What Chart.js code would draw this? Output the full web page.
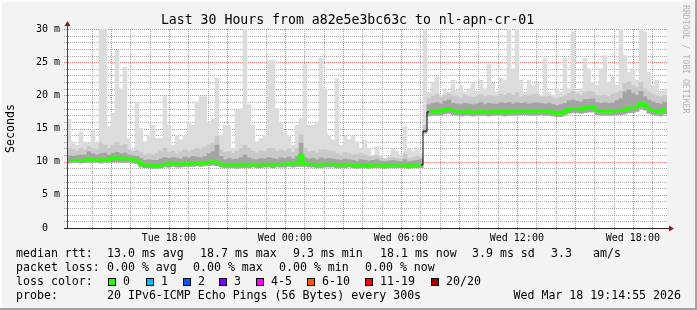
<!DOCTYPE html>
<html>
<head>
<meta charset="utf-8">
<script src="https://cdn.jsdelivr.net/npm/chart.js@4.4.1/dist/chart.umd.min.js"></script>
<style>
  html, body { margin: 0; padding: 0; background: #f3f3f3; }
  #wrap { width: 697px; height: 310px; }
</style>
</head>
<body>
<div id="wrap"><canvas id="smoke" width="697" height="310"></canvas></div>
<script>
// 150 slots of 12 minutes, Tue 13:15 -> Wed 19:15 (values in ms)
const medianMs = [
  10.2,10.2,10.2,10.2,10.2,10.4,10.3,10.2,10.3,10.3,
  10.3,10.6,10.6,10.4,10.5,10.4,10.3,10.2,9.7,9.5,
  9.5,9.4,9.4,9.5,9.6,9.7,9.7,9.7,9.6,9.7,
  9.7,9.8,9.8,9.7,9.8,9.9,10.0,9.9,9.6,9.5,
  9.5,9.5,9.5,9.6,9.5,9.5,9.6,9.5,9.5,9.6,
  9.6,9.5,9.6,9.6,9.6,9.7,9.6,9.8,10.9,9.7,
  9.6,9.6,9.5,9.5,9.6,9.6,9.6,9.5,9.5,9.5,
  9.6,9.5,9.4,9.5,9.5,9.4,9.5,9.5,9.5,9.4,
  9.5,9.5,9.5,9.5,9.5,9.4,9.5,9.5,9.5,14.6,
  17.5,17.6,17.5,17.6,17.9,18.0,17.7,17.6,17.5,17.5,
  17.6,17.4,17.5,17.6,17.5,17.5,17.6,17.5,17.6,17.5,
  17.6,17.5,17.6,17.6,17.7,17.6,17.6,17.6,17.7,17.6,
  17.6,17.5,17.3,17.3,17.6,17.9,18.0,18.0,17.9,18.1,
  18.2,18.2,17.7,17.6,17.6,17.6,17.6,17.7,17.7,17.8,
  18.1,18.1,18.3,18.8,18.5,18.0,17.7,17.6,17.5,17.9
];
const minMs = [
  9.8,9.9,9.9,9.8,9.9,9.9,9.9,9.9,9.8,9.9,
  9.9,9.9,10.0,9.9,9.9,9.9,9.8,9.7,9.2,9.1,
  9.1,9.0,9.0,9.1,9.2,9.2,9.3,9.2,9.2,9.3,
  9.3,9.3,9.4,9.3,9.4,9.4,9.5,9.4,9.2,9.1,
  9.1,9.1,9.0,9.1,9.1,9.1,9.2,9.1,9.1,9.2,
  9.2,9.1,9.2,9.2,9.2,9.3,9.2,9.3,9.3,9.3,
  9.2,9.2,9.1,9.1,9.2,9.2,9.2,9.1,9.1,9.1,
  9.2,9.1,9.0,9.1,9.1,9.0,9.1,9.1,9.1,9.0,
  9.1,9.1,9.1,9.1,9.1,9.0,9.1,9.1,9.1,14.3,
  16.9,17.0,17.0,17.0,17.2,17.3,17.1,17.0,16.9,17.0,
  17.0,16.9,17.0,17.0,17.0,16.9,17.0,17.0,17.0,16.9,
  17.0,17.0,17.0,17.1,17.1,17.0,17.0,17.0,17.1,17.0,
  17.0,16.9,16.8,16.8,17.0,17.3,17.4,17.4,17.3,17.4,
  17.5,17.5,17.1,17.0,17.0,17.0,17.0,17.1,17.1,17.2,
  17.4,17.4,17.6,18.0,17.8,17.3,17.1,17.0,16.9,17.2
];
const p70Ms = [
  10.9,10.8,10.9,11.0,11.0,11.5,11.2,11.0,11.2,11.3,
  11.0,11.3,11.4,11.2,11.3,11.0,10.9,10.8,10.5,10.2,
  10.3,10.2,10.2,10.4,10.6,10.5,10.6,10.5,10.4,10.7,
  10.6,10.8,10.7,10.6,10.8,11.2,11.5,12.5,10.8,10.3,
  10.5,10.3,10.4,10.6,11.0,10.6,10.4,10.3,10.5,10.4,
  10.6,10.5,10.4,10.6,10.5,10.7,10.4,10.8,12.8,10.6,
  10.4,10.5,10.3,10.6,10.4,10.5,10.4,10.3,10.2,10.4,
  10.3,10.2,10.1,10.3,10.2,10.1,10.2,10.3,10.1,10.0,
  10.1,10.2,10.1,10.0,10.3,10.0,10.1,10.2,10.3,14.8,
  18.6,18.8,18.9,18.7,19.1,19.3,18.8,18.7,18.6,18.8,
  18.7,18.6,18.7,18.9,18.6,18.8,18.7,18.7,18.9,18.8,
  18.9,18.7,18.9,18.8,18.9,18.7,18.8,18.9,18.8,18.7,
  18.8,18.6,18.5,18.6,18.8,19.2,19.3,19.1,19.0,19.4,
  19.4,19.5,18.9,18.8,18.9,18.8,18.9,19.2,19.5,20.5,
  20.8,20.3,20.0,20.6,19.8,19.3,19.0,18.8,18.7,19.0
];
const p85Ms = [
  12.0,11.8,11.6,12.0,11.8,12.3,12.0,11.8,12.8,12.5,
  12.0,12.5,12.9,12.4,12.6,11.8,11.5,11.7,11.4,11.0,
  11.2,11.0,11.3,11.6,12.0,11.4,11.6,11.2,11.5,11.8,
  11.5,11.8,12.0,11.8,12.2,12.5,12.8,13.8,11.8,11.4,
  11.5,11.2,11.6,12.0,12.5,12.0,11.6,11.3,11.6,11.5,
  12.0,12.0,11.6,11.8,11.6,11.9,11.4,12.0,14.0,12.0,
  11.5,11.6,11.3,11.8,11.8,11.6,11.6,11.2,11.0,11.4,
  11.2,11.0,11.1,11.2,11.0,10.8,10.7,10.9,10.6,10.4,
  10.5,10.6,10.5,10.4,11.2,10.5,10.6,10.8,10.6,15.5,
  19.6,19.9,20.2,19.7,20.0,20.3,19.9,19.8,19.6,20.0,
  19.8,19.7,19.9,20.1,19.8,20.0,19.9,19.8,20.2,20.0,
  20.3,20.0,20.4,19.8,20.0,19.9,20.1,20.2,19.8,19.8,
  19.9,19.6,19.5,19.7,19.9,20.3,20.6,20.2,20.0,20.5,
  20.6,20.5,20.0,19.9,20.0,19.8,20.2,20.4,20.6,21.8,
  22.0,21.5,21.2,22.0,21.0,20.5,20.2,19.9,19.8,20.0
];
const maxMs = [
  16.4,13.0,12.5,14.5,13.0,12.8,14.9,12.8,30,30,
  15.3,17.3,26.8,21.0,24.3,13.5,11.8,19.0,15.0,13.0,
  14.0,15.5,13.5,13.5,19.8,15.5,12.5,14.0,13.3,13.8,
  16.0,15.5,19.0,19.8,19.8,16.0,16.5,22.6,14.0,15.5,
  15.5,12.0,17.8,18.0,30,18.6,15.5,13.0,13.5,14.0,
  25.3,25.3,18.0,16.0,14.5,14.0,12.5,15.5,16.5,24.6,
  15.5,15.5,16.0,25.6,21.0,14.0,13.3,22.5,12.5,13.8,
  13.3,13.8,13.0,12.0,13.3,12.0,10.9,12.3,11.0,10.5,
  10.8,11.9,11.6,11.0,15.3,11.9,11.6,12.2,11.3,30,
  20.5,22.0,22.8,20.0,21.0,20.5,22.3,20.8,21.5,20.5,
  21.0,21.8,20.6,22.3,21.0,24.6,21.8,20.5,22.6,22.3,
  30,24.0,30,22.3,20.5,22.3,21.5,21.8,20.0,25.6,
  20.5,20.0,21.0,20.5,25.6,21.0,29.6,20.6,21.0,25.6,
  24.0,22.0,21.5,24.0,26.0,22.0,22.8,21.5,30,26.0,
  23.5,24.0,22.3,30,29.6,23.5,21.5,22.3,20.6,21.0
];

// axis labels
const startHour = 13.25;   // Tue 13:15
const endHour = 43.25;     // Wed 19:15
const timeLabelHours = [18, 24, 30, 36, 42];
const timeLabels = ['Tue 18:00', 'Wed 00:00', 'Wed 06:00', 'Wed 12:00', 'Wed 18:00'];
const yLabelValues = [0, 5, 10, 15, 20, 25, 30];
const yLabels = ['0  ', '5 m', '10 m', '15 m', '20 m', '25 m', '30 m'];

// legend texts
const titleText = 'Last 30 Hours from a82e5e3bc63c to nl-apn-cr-01';
const statRows = [
  [[16, 'median rtt:'], [107, '13.0 ms avg'], [200, '18.7 ms max'], [293, '9.3 ms min'],
   [380, '18.1 ms now'], [472, '3.9 ms sd'], [551, '3.3'], [593, 'am/s']],
  [[16, 'packet loss:'], [107, '0.00 % avg'], [193, '0.00 % max'], [279, '0.00 % min'], [365, '0.00 % now']],
  [[16, 'loss color:']],
  [[16, 'probe:'], [107, '20 IPv6-ICMP Echo Pings (56 Bytes) every 300s']]
];
const stampText = 'Wed Mar 18 19:14:55 2026';
const lossLabels = ['0', '1', '2', '3', '4-5', '6-10', '11-19', '20/20'];
const lossColors = ['#26ff00', '#00b8ff', '#0059ff', '#7e00ff', '#ff00ff', '#ff5500', '#ff0000', '#a10000'];
const lossBoxX = [108, 146, 183, 219, 256, 307, 365, 431];

const MONO = '"DejaVu Sans Mono", monospace';
const GREEN = '#26ff00';
const MAJOR = 'rgb(228,120,120)';
const MINOR = 'rgb(168,168,168)';

const slots = medianMs.map((_, i) => i);
const band = (lo, hi) => lo.map((v, i) => [v, hi[i]]);

const hourTicks = [];
for (let h = Math.ceil(startHour); h <= endHour; h++) hourTicks.push(h);
const msTicks = [];
for (let v = 0; v <= 30; v++) msTicks.push(v);

// dotted rrdtool style grid, placed with the chart's own scales
const rrdGrid = {
  id: 'rrdGrid',
  beforeDatasetsDraw(chart) {
    const { ctx, chartArea: a, scales } = chart;
    const xs = scales.xg, ys = scales.y;
    ctx.save();
    ctx.lineWidth = 1;
    ctx.setLineDash([1, 1]);
    hourTicks.forEach((h) => {
      const x = Math.round(xs.getPixelForValue(h)) + 0.5;
      ctx.strokeStyle = h % 3 === 0 ? MAJOR : MINOR;
      ctx.beginPath();
      ctx.moveTo(x, a.top);
      ctx.lineTo(x, a.bottom + 3);
      ctx.stroke();
    });
    msTicks.forEach((v) => {
      const y = Math.round(ys.getPixelForValue(v)) + 0.5;
      ctx.strokeStyle = v % 5 === 0 ? MAJOR : MINOR;
      ctx.beginPath();
      ctx.moveTo(a.left - 3, y);
      ctx.lineTo(a.right, y);
      ctx.stroke();
    });
    ctx.restore();
  }
};

const rrdDecor = {
  id: 'rrdDecor',
  beforeDraw(chart) {
    const { ctx, chartArea: a, width, height } = chart;
    ctx.save();
    ctx.fillStyle = '#f3f3f3';
    ctx.fillRect(0, 0, width, height);
    ctx.fillStyle = '#fdfdfd';
    ctx.fillRect(0, 0, width, 2);
    ctx.fillRect(0, 0, 2, height);
    ctx.fillStyle = '#a3a3a3';
    ctx.fillRect(0, height - 2, width, 2);
    ctx.fillRect(width - 2, 0, 2, height);
    ctx.fillStyle = '#ffffff';
    ctx.fillRect(a.left, a.top, a.right - a.left, a.bottom - a.top);
    ctx.restore();
  },
  afterDraw(chart) {
    const { ctx, chartArea: a } = chart;
    ctx.save();
    // axes with arrows
    ctx.lineWidth = 1;
    ctx.strokeStyle = '#444';
    ctx.beginPath();
    ctx.moveTo(a.left + 0.5, a.top - 5);
    ctx.lineTo(a.left + 0.5, a.bottom + 1);
    ctx.stroke();
    ctx.strokeStyle = '#222';
    ctx.beginPath();
    ctx.moveTo(a.left - 3, a.bottom + 0.5);
    ctx.lineTo(a.right + 3, a.bottom + 0.5);
    ctx.stroke();
    ctx.fillStyle = '#8b1a1a';
    ctx.beginPath();
    ctx.moveTo(a.left + 0.5, a.top - 8);
    ctx.lineTo(a.left - 2.5, a.top - 3);
    ctx.lineTo(a.left + 3.5, a.top - 3);
    ctx.closePath();
    ctx.fill();
    ctx.beginPath();
    ctx.moveTo(a.right + 7, a.bottom + 0.5);
    ctx.lineTo(a.right + 2, a.bottom - 2.5);
    ctx.lineTo(a.right + 2, a.bottom + 3.5);
    ctx.closePath();
    ctx.fill();

    // title
    ctx.fillStyle = '#000';
    ctx.font = '13.2px ' + MONO;
    ctx.textAlign = 'center';
    ctx.textBaseline = 'alphabetic';
    ctx.fillText(titleText, 347.5, 24);

    // watermark
    ctx.save();
    ctx.translate(685, 5);
    ctx.rotate(Math.PI / 2);
    ctx.font = '8.2px ' + MONO;
    ctx.fillStyle = '#b4b4b4';
    ctx.textAlign = 'left';
    ctx.textBaseline = 'middle';
    ctx.fillText('RRDTOOL / TOBI OETIKER', 0, 0);
    ctx.restore();

    // legend rows
    ctx.font = '11.6px ' + MONO;
    ctx.fillStyle = '#000';
    ctx.textBaseline = 'middle';
    ctx.textAlign = 'left';
    const rowY = [254, 268, 282, 296];
    statRows.forEach((row, r) => {
      row.forEach(([x, t]) => ctx.fillText(t, x, rowY[r]));
    });
    ctx.textAlign = 'right';
    ctx.fillText(stampText, 681, rowY[3]);
    ctx.textAlign = 'left';
    lossLabels.forEach((lab, i) => {
      const x = lossBoxX[i];
      ctx.fillStyle = lossColors[i];
      ctx.fillRect(x, 278, 8, 8);
      ctx.strokeStyle = '#000';
      ctx.strokeRect(x + 0.5, 278.5, 7, 7);
      ctx.fillStyle = '#000';
      ctx.fillText(lab, x + 15, rowY[2]);
    });
    ctx.restore();
  }
};

Chart.defaults.color = '#000';
Chart.defaults.font.family = MONO;

new Chart(document.getElementById('smoke'), {
  type: 'bar',
  data: {
    labels: slots,
    datasets: [
      {
        type: 'line', label: 'median', data: medianMs, order: 0,
        borderColor: GREEN, borderWidth: 3, pointRadius: 0, stepped: 'middle',
        segment: {
          borderColor: (c) => Math.abs(c.p1.parsed.y - c.p0.parsed.y) > 2 ? 'rgba(0,0,0,0)' : GREEN
        }
      },
      {
        type: 'line', label: 'median line', data: medianMs, order: 1,
        borderColor: '#000', borderWidth: 1, pointRadius: 0, stepped: 'middle'
      },
      { label: 'p70', data: band(minMs, p70Ms), backgroundColor: '#a4a4a4', order: 2, grouped: false },
      { label: 'p85', data: band(minMs, p85Ms), backgroundColor: '#c9c9c9', order: 3, grouped: false },
      { label: 'max', data: band(minMs, maxMs), backgroundColor: '#dcdcdc', order: 4, grouped: false }
    ]
  },
  options: {
    responsive: false,
    animation: false,
    events: [],
    barPercentage: 1,
    categoryPercentage: 1,
    layout: { padding: { top: 29, right: 30, left: 0, bottom: 0 } },
    plugins: {
      legend: { display: false },
      tooltip: { enabled: false },
      title: { display: false }
    },
    scales: {
      x: { type: 'category', display: false, offset: true },
      xg: {
        type: 'linear', position: 'bottom', min: startHour, max: endHour,
        afterBuildTicks: (s) => { s.ticks = hourTicks.map((v) => ({ value: v })); },
        afterFit: (s) => { s.height = 82; },
        border: { display: false },
        grid: { color: 'rgba(0,0,0,0)', tickLength: 3, drawTicks: true },
        ticks: {
          autoSkip: false, maxRotation: 0, minRotation: 0, padding: 1,
          font: { size: 10, family: MONO },
          callback: (v) => {
            const k = timeLabelHours.indexOf(v);
            return k >= 0 ? timeLabels[k] : '';
          }
        }
      },
      y: {
        min: 0, max: 30,
        afterBuildTicks: (s) => { s.ticks = msTicks.map((v) => ({ value: v })); },
        afterFit: (s) => { s.width = 67; },
        border: { display: false },
        grid: { color: 'rgba(0,0,0,0)', tickLength: 3, drawTicks: true },
        ticks: {
          autoSkip: false, padding: 4,
          font: { size: 10, family: MONO },
          callback: (v) => {
            const k = yLabelValues.indexOf(v);
            return k >= 0 ? yLabels[k] : '';
          }
        },
        title: {
          display: true, text: 'Seconds',
          font: { size: 11.6, family: MONO },
          padding: { top: 4, bottom: 0 }
        }
      }
    }
  },
  plugins: [rrdDecor, rrdGrid]
});
</script>
</body>
</html>
